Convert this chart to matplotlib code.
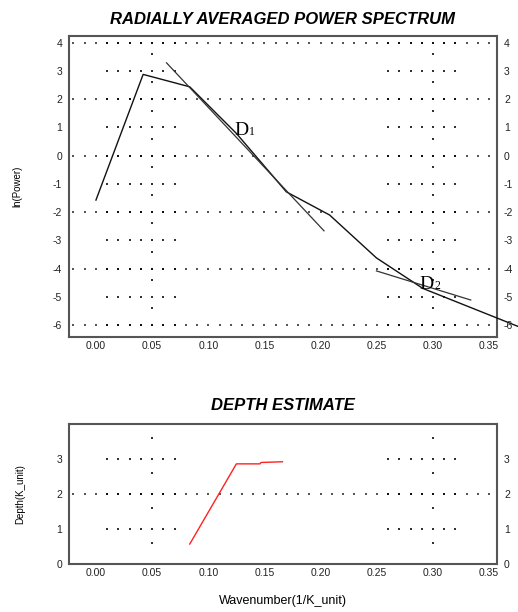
import numpy as np
import matplotlib
matplotlib.use("Agg")
import matplotlib.pyplot as plt

plt.rcParams['font.family'] = ['Liberation Sans Narrow', 'Liberation Sans', 'DejaVu Sans']

# ---- data ----
spec_k = [0.0, 0.042, 0.0835, 0.125, 0.1695, 0.208, 0.2497, 0.291, 0.3754]
spec_lnp = [-1.57, 2.88, 2.44, 0.79, -1.28, -2.10, -3.62, -4.70, -6.04]
fit1_k = [0.0628, 0.203]
fit1_lnp = [3.29, -2.66]
fit2_k = [0.2497, 0.3336]
fit2_lnp = [-4.08, -5.11]
depth_k = [0.0835, 0.125, 0.146, 0.147, 0.166]
depth_val = [0.57, 2.86, 2.86, 2.90, 2.92]
xticks = [0.00, 0.05, 0.10, 0.15, 0.20, 0.25, 0.30, 0.35]
yticks_top = [4, 3, 2, 1, 0, -1, -2, -3, -4, -5, -6]
yticks_bot = [0, 1, 2, 3]
labels_D = [("D", "1", 0.1236, 0.73), ("D", "2", 0.288, -4.72)]

W, H = 518, 612
fig = plt.figure(figsize=(W / 100, H / 100), dpi=100)
fig.patch.set_facecolor('white')

ax1 = fig.add_axes([69 / W, (H - 337) / H, (497 - 69) / W, (337 - 36) / H])
ax2 = fig.add_axes([69 / W, (H - 564) / H, (497 - 69) / W, (564 - 424.3) / H])

XL = (-0.024, 0.357)


def dot_grid(ax, dense_rows, sparse_rows, vert_y):
    xs_all = np.round(np.arange(-0.02, 0.355, 0.01), 3)
    grp = [x for x in xs_all if (0.005 < x < 0.075) or (0.255 < x < 0.325)]
    for r in dense_rows:
        light = [x for x in xs_all if x not in grp]
        ax.scatter(light, [r] * len(light), s=1.2, marker='s', c='#555555',
                   linewidths=0, zorder=1)
        ax.scatter(grp, [r] * len(grp), s=3.0, marker='s', c='#111111',
                   linewidths=0, zorder=1)
    for r in sparse_rows:
        ax.scatter(grp, [r] * len(grp), s=1.6, marker='s', c='#333333',
                   linewidths=0, zorder=1)
    for xv in (0.05, 0.30):
        ax.scatter([xv] * len(vert_y), vert_y, s=1.6, marker='s', c='#333333',
                   linewidths=0, zorder=1)


def style(ax, yticks, ylim):
    ax.set_xlim(*XL)
    ax.set_ylim(*ylim)
    ax.set_xticks(xticks)
    ax.set_xticklabels([f"{v:.2f}" for v in xticks])
    ax.set_yticks(yticks)
    ax.set_yticklabels([str(v) for v in yticks])
    ax.tick_params(axis='both', length=0, labelsize=7.5, colors='#222222',
                   pad=3)
    ax.tick_params(axis='y', left=True, right=True, labelleft=True,
                   labelright=True, pad=5)
    for s in ax.spines.values():
        s.set_color('#555555')
        s.set_linewidth(1.5)


# ---- top panel ----
dot_grid(ax1, [4, 2, 0, -2, -4, -6], [3, 1, -1, -3, -5],
         [n + 0.6 for n in range(-6, 4)])
ax1.plot(spec_k, spec_lnp, color='#111111', lw=1.0, clip_on=False, zorder=3)
ax1.plot(fit1_k, fit1_lnp, color='#333333', lw=0.9, zorder=3)
ax1.plot(fit2_k, fit2_lnp, color='#333333', lw=0.9, zorder=3)
for big, sub, x, y in labels_D:
    ax1.text(x, y, big, fontsize=14, family=['Liberation Serif'],
             ha='left', va='baseline', zorder=4)
    ax1.annotate(sub, (x, y), xytext=(10.5, 0), textcoords='offset points',
                 fontsize=8.5, family=['Liberation Serif'], ha='left',
                 va='baseline', zorder=4)
style(ax1, yticks_top, (-6.42, 4.24))
ax1.set_title("RADIALLY AVERAGED POWER SPECTRUM", fontsize=12,
              fontweight='bold', style='italic', pad=9)
ax1.set_ylabel("ln(Power)", fontsize=7, labelpad=22)

# ---- bottom panel ----
dot_grid(ax2, [2], [1, 3], [n + 0.6 for n in range(0, 4)])
ax2.plot(depth_k, depth_val, color='#ff2020', lw=1.0, zorder=3)
style(ax2, yticks_bot, (0, 3.99))
ax2.set_title("DEPTH ESTIMATE", fontsize=12, fontweight='bold',
              style='italic', pad=10)
ax2.set_ylabel("Depth(K_unit)", fontsize=7, labelpad=22)
ax2.set_xlabel("Wavenumber(1/K_unit)", fontsize=9, labelpad=12)

fig.savefig("out.png", dpi=100, facecolor='white')
